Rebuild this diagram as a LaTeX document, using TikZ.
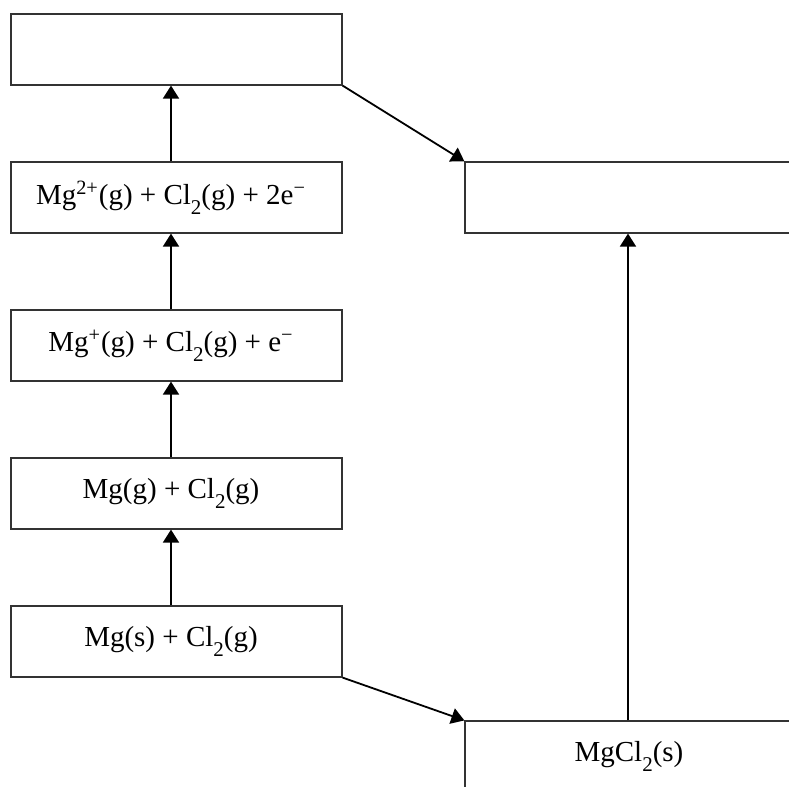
\documentclass[tikz,border=0pt]{standalone}
\usepackage{fontspec}
\setmainfont{Liberation Serif}
\usetikzlibrary{arrows.meta}
\newcommand{\lowtwo}{\raisebox{-0.32em}{\fontsize{10.5}{12}\selectfont 2}}
\tikzset{
	level/.style={draw=black!80, line width=0.6pt, fill=white, minimum width=165.5pt, minimum height=35.5pt, inner sep=0pt, font=\fontsize{14.5}{17}\selectfont, execute at end node={\hspace{5.5pt}}},
	step arrow/.style={line width=0.9pt, -{Triangle[width=8pt, length=6.5pt]}}
}

\begin{document}
\begin{tikzpicture}[x=0.5pt, y=-0.5pt]
			%%%%% START %%%%%
			
			\useasboundingbox (0, 0) rectangle (789, 787);
			\clip (0, 0) rectangle (789, 787);
			
			\node[level] (top) at (176.5, 49.5) {};
			\node[level] (ion2) at (176.5, 197.5) {Mg\textsuperscript{2+}(g) + Cl\lowtwo(g) + 2e\textsuperscript{−}};
			\node[level] (ion1) at (176.5, 345.5) {Mg\textsuperscript{+}(g) + Cl\lowtwo(g) + e\textsuperscript{−}};
			\node[level] (atom) at (176.5, 493.5) {Mg(g) + Cl\lowtwo(g)};
			\node[level] (elem) at (176.5, 641.5) {Mg(s) + Cl\lowtwo(g)};
			
			\node[level] (gas) at (630.5, 197.5) {};
			\node[level, execute at end node={\hspace{-4pt}}] (salt) at (630.5, 756.5) {MgCl\lowtwo(s)};
			
			\draw[step arrow] ([xshift=-2.75pt]elem.north) -- ([xshift=-2.75pt]atom.south);
			\draw[step arrow] ([xshift=-2.75pt]atom.north) -- ([xshift=-2.75pt]ion1.south);
			\draw[step arrow] ([xshift=-2.75pt]ion1.north) -- ([xshift=-2.75pt]ion2.south);
			\draw[step arrow] ([xshift=-2.75pt]ion2.north) -- ([xshift=-2.75pt]top.south);
			
			\draw[step arrow] (top.south east) -- (gas.north west);
			\draw[step arrow] (elem.south east) -- (salt.north west);
			\draw[step arrow] ([xshift=-1.25pt]salt.north) -- ([xshift=-1.25pt]gas.south);
			
			%%%%% END %%%%%
\end{tikzpicture}
\end{document}
